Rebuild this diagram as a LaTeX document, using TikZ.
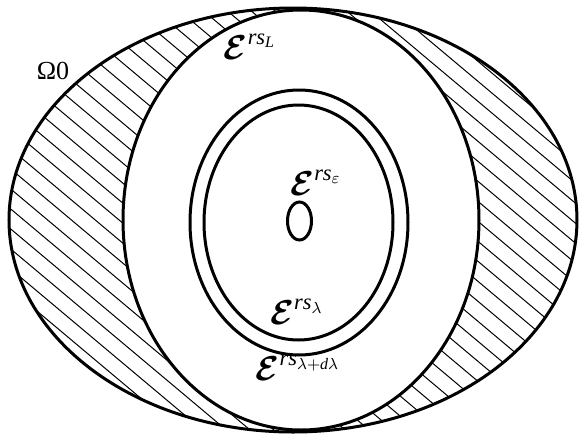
\documentclass[tikz,border=0pt]{standalone}
\usepackage{amsmath,amssymb}
\usepackage{fontspec}
\setmainfont{Liberation Serif}
\usetikzlibrary{positioning}

\newcommand{\lev}[1]{$\boldsymbol{\mathcal{E}}^{\textit{rs}_{#1}}$}

\tikzset{
  bound/.style={draw=black, line width=1.5pt},
  hatch/.style={draw=black, line width=0.5pt},
  tag/.style={font=\fontsize{16}{18}\selectfont, inner sep=0pt}
}

\begin{document}
\begin{tikzpicture}[x=0.5pt, y=-0.5pt]
  \useasboundingbox (0,0) rectangle (580,435);

  % Hatched region between Omega_0 and the L level set
  \begin{scope}
    \clip (293,220) ellipse [x radius=284, y radius=212];
    \foreach \c in {-640,-620,...,460}
      \draw[hatch] (0,\c) -- (580,\c+487);
  \end{scope}
  \fill[white] (301,220) ellipse [x radius=178, y radius=210];

  % Outer domain
  \draw[bound] (293,220) ellipse [x radius=284, y radius=212];
  \node[font=\fontsize{13}{15}\selectfont, inner sep=0pt] (omega) at (53,71) {Ω0};

  % Level set L
  \draw[bound] (301,220) ellipse [x radius=178, y radius=210];
  \node[tag] (levL) at (250,47) {\lev{\textit{L}}};

  % Level sets lambda and lambda+dlambda
  \draw[bound] (299,222.5) ellipse [x radius=109, y radius=132.5];
  \draw[bound] (298.5,222.5) ellipse [x radius=94.5, y radius=117.5];
  \node[tag] (levlam) at (297,312) {\lev{\lambda}};
  \node[tag] (levdlam) at (298,368) {\lev{\lambda+\textit{d}\lambda}};

  % Level set epsilon
  \draw[bound] (299.5,221) ellipse [x radius=12, y radius=19];
  \node[tag] (leveps) at (316,183) {\lev{\varepsilon}};
\end{tikzpicture}
\end{document}
